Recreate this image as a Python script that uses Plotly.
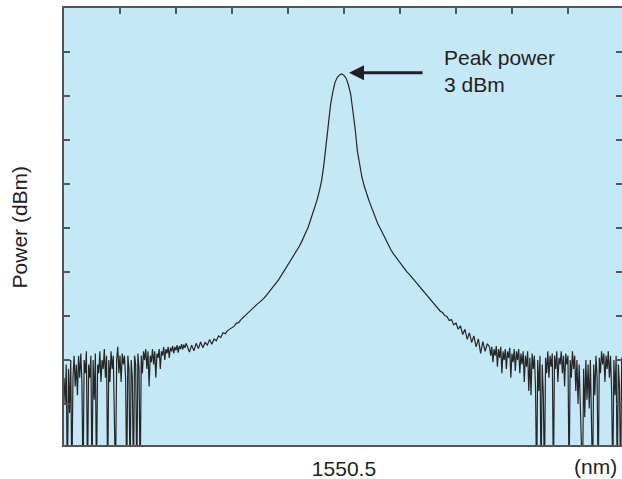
import plotly.graph_objects as go

# ---- data: OSA trace in three sampled segments ----
left_start_nm = 1550.000
left_step_nm = 0.002
left_power_dbm = [
    -66.0, -72.0, -63.0, -90.0, -64.0, -74.0, -62.0, -90.0, -66.0, -61.0,
    -68.0, -63.0, -70.0, -61.0, -66.0, -60.5, -67.0, -90.0, -62.0, -65.0,
    -60.0, -90.0, -63.0, -66.0, -61.0, -90.0, -62.0, -71.0, -60.5, -90.0,
    -63.0, -65.0, -60.0, -67.0, -62.0, -64.0, -59.5, -66.0, -61.0, -90.0,
    -62.0, -67.0, -60.0, -64.0, -61.0, -70.0, -90.0, -62.0, -59.0, -65.0,
    -61.0, -67.0, -60.5, -63.0, -61.0, -66.0, -90.0, -61.0, -64.0, -90.0,
    -62.0, -66.0, -90.0, -61.0, -63.0, -90.0, -60.5, -64.0, -90.0, -61.0,
    -65.0, -60.0, -62.0, -59.5, -64.0, -60.0, -68.0, -61.0, -62.5, -59.5,
    -63.0, -60.0, -66.0, -60.5, -61.5, -59.5, -64.0, -60.0, -61.0, -59.0,
    -62.0, -59.5, -60.5, -59.0, -61.5, -59.2, -60.0, -58.8, -60.5, -59.0,
    -59.8, -58.6, -60.3, -58.8, -59.5, -58.4, -59.6, -58.5, -59.2, -58.2,
    -58.8,
]
center_start_nm = 1550.220
center_step_nm = 0.004
center_power_dbm = [
    -58.8, -60.2, -58.6, -59.9, -58.2, -59.4, -57.9, -59.2, -58.0, -58.6,
    -57.3, -58.4, -57.2, -57.6, -56.5, -56.9, -55.8, -56.0, -55.3, -55.0,
    -54.6, -54.3, -53.6, -53.5, -52.8, -52.3, -51.8, -51.3, -50.7, -50.3,
    -49.8, -49.4, -49.0, -48.6, -48.1, -47.5, -46.9, -46.2, -45.6, -45.0,
    -44.3, -43.6, -42.8, -42.0, -41.2, -40.4, -39.7, -38.8, -37.9, -37.0,
    -36.2, -35.2, -34.1, -33.0, -31.8, -30.3, -28.8, -27.3, -25.6, -23.6,
    -21.3, -17.7, -13.3, -8.8, -4.0, -1.1, 1.1, 2.2, 2.8, 3.0,
    2.7, 2.0, 0.5, -1.6, -5.0, -9.5, -14.6, -18.0, -20.4, -22.4,
    -24.1, -25.5, -26.9, -28.3, -29.7, -30.9, -31.9, -33.0, -34.0, -35.0,
    -36.0, -37.0, -37.8, -38.5, -39.2, -39.8, -40.5, -41.2, -41.9, -42.4,
    -43.0, -43.6, -44.2, -44.8, -45.4, -46.0, -46.6, -47.2, -47.8, -48.4,
    -49.0, -49.6, -50.2, -50.9, -51.2, -51.9, -52.1, -53.0, -52.8, -54.0,
    -53.6, -55.0, -54.2, -56.2, -55.0, -57.3, -55.8, -58.0, -56.5, -59.0,
    -57.2, -60.5, -57.8, -60.0, -58.3, -59.0,
]
right_start_nm = 1550.760
right_step_nm = 0.002
right_power_dbm = [
    -59.0, -61.0, -59.0, -62.5, -59.5, -61.0, -58.8, -63.5, -59.5, -61.5,
    -59.0, -65.0, -60.0, -62.0, -59.5, -64.0, -60.0, -61.5, -59.2, -66.0,
    -60.5, -62.5, -59.5, -64.5, -60.0, -62.0, -59.5, -65.0, -60.5, -63.0,
    -60.0, -67.0, -61.0, -63.5, -60.0, -69.0, -61.5, -70.0, -60.5, -64.0,
    -61.0, -68.0, -90.0, -62.0, -69.0, -61.0, -90.0, -63.0, -70.0, -90.0,
    -61.5, -65.0, -60.0, -66.0, -61.0, -63.5, -60.5, -90.0, -61.0, -64.0,
    -60.0, -67.0, -61.5, -63.0, -60.0, -65.0, -61.0, -68.0, -60.5, -63.0,
    -61.0, -90.0, -62.0, -66.0, -60.0, -64.0, -61.0, -69.0, -62.0, -72.0,
    -63.0, -74.0, -90.0, -90.0, -64.0, -75.0, -62.0, -71.0, -63.0, -73.0,
    -62.0, -90.0, -90.0, -63.0, -70.0, -61.0, -66.0, -90.0, -61.5, -65.0,
    -60.0, -63.0, -60.5, -67.0, -61.0, -64.0, -60.0, -66.0, -61.0, -69.0,
    -90.0, -62.0, -70.0, -61.0, -90.0, -63.0, -68.0, -90.0, -61.5, -66.0,
    -62.0,
]
x_range_nm = [1550.0, 1550.9965]
y_range_dbm = [-81.3, 18.0]
x_tick_vals = [1550.5]
x_tick_text = ["1550.5"]
peak_wl_nm = 1550.509
peak_power = 3.3
arrow_tail_nm = 1550.643
peak_label = "Peak power<br>3 dBm"
y_title = "Power (dBm)"
x_unit = "(nm)"

FONT = "Liberation Sans, Arial, sans-serif"
TXT = "#231f20"
AX = "#555555"
LINE = dict(color="#262626", width=1.2)

fig = go.Figure()
for y_vals, x_start, x_step in [
    (left_power_dbm, left_start_nm, left_step_nm),
    (center_power_dbm, center_start_nm, center_step_nm),
    (right_power_dbm, right_start_nm, right_step_nm),
]:
    fig.add_trace(go.Scatter(
        y=y_vals, x0=x_start, dx=x_step, mode="lines", line=LINE,
        showlegend=False, hoverinfo="skip",
    ))
# empty trace to create the overlay axes (top / right ticks)
fig.add_trace(go.Scatter(x=[], y=[], xaxis="x2", yaxis="y2", showlegend=False))

fig.update_layout(
    width=622, height=479,
    margin=dict(l=64, r=0, t=8, b=34),
    paper_bgcolor="white", plot_bgcolor="#c5e8f7",
    font=dict(family=FONT, size=21, color=TXT),
    xaxis=dict(range=x_range_nm, showline=True, linecolor=AX, linewidth=2,
               mirror=True, ticks="", tickvals=x_tick_vals, ticktext=x_tick_text,
               tickfont=dict(size=21, color=TXT), showgrid=False, zeroline=False,
               ticklabelstandoff=4),
    xaxis2=dict(range=x_range_nm, overlaying="x", side="top", ticks="inside",
                ticklen=6, tickwidth=2, tickcolor=AX, tickmode="linear",
                tick0=1550.0, dtick=0.1, showticklabels=False, showgrid=False,
                zeroline=False, showline=False),
    yaxis=dict(range=y_range_dbm, showline=True, linecolor=AX, linewidth=2,
               mirror=False, ticks="inside", ticklen=6, tickwidth=2, tickcolor=AX,
               tickmode="linear", tick0=-2, dtick=10, showticklabels=False,
               showgrid=False, zeroline=False),
    yaxis2=dict(range=y_range_dbm, overlaying="y", side="right", ticks="inside",
                ticklen=6, tickwidth=2, tickcolor=AX, tickmode="linear",
                tick0=-2, dtick=10, showticklabels=False, showgrid=False,
                zeroline=False, showline=False),
    annotations=[
        dict(x=peak_wl_nm, y=peak_power, ax=arrow_tail_nm, ay=peak_power,
             xref="x", yref="y", axref="x", ayref="y", text="",
             showarrow=True, arrowhead=2, arrowsize=1, arrowwidth=3,
             arrowcolor=TXT),
        dict(x=0.677, y=0.855, xref="paper", yref="paper", text=peak_label,
             showarrow=False, xanchor="left", yanchor="middle", align="left",
             font=dict(size=21, color=TXT)),
        dict(x=-0.0789, y=0.5, xref="paper", yref="paper", text=y_title,
             textangle=-90, showarrow=False, xanchor="center", yanchor="middle",
             font=dict(size=21, color=TXT)),
        dict(x=0.952, y=-0.05, xref="paper", yref="paper", text=x_unit,
             showarrow=False, xanchor="center", yanchor="middle",
             font=dict(size=21, color=TXT)),
    ],
)

fig.write_html("out.html", config={"displayModeBar": False},
               post_script="document.body.style.margin='0';")
